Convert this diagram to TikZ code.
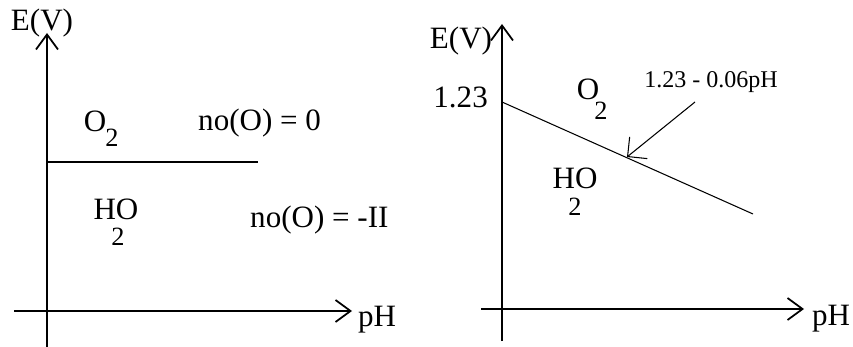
\documentclass[tikz,border=0pt]{standalone}
\usepackage{fontspec}
\setmainfont{Liberation Serif}
\usetikzlibrary{arrows.meta}

\begin{document}
\begin{tikzpicture}[x=0.03cm, y=-0.03cm,
		>={Straight Barb[length=0.45cm, width=0.66cm]},
		axis/.style={->, line width=1.5pt},
		lbl/.style={font=\fontsize{26.5}{30}\selectfont, inner sep=0pt},
		sub/.style={font=\fontsize{22.5}{26}\selectfont, inner sep=0pt},
		note/.style={font=\fontsize{20.5}{24}\selectfont, inner sep=0pt}]
		\useasboundingbox (0,0) rectangle (853,347);
		% left diagram: axes
		\coordinate (ybot1) at (47,347); \coordinate (ytop1) at (47,33);
		\coordinate (xlft1) at (14,311); \coordinate (xrgt1) at (352,311);
		\draw[axis] (ybot1) -- (ytop1);
		\draw[axis] (xlft1) -- (xrgt1);
		\node[lbl] (ev1) at (42,23) {E(V)};
		\node[lbl] (ph1) at (377,320) {pH};
		% boundary
		\coordinate (b0) at (47,162); \coordinate (b1) at (258,162);
		\draw[line width=1.5pt] (b0) -- (b1);
		\node[lbl] (oa) at (95,121) {O};
		\node[sub] (oa2) at (112,138) {2};
		\node[lbl, anchor=west] (no0) at (198,123) {no(O) = 0};
		\node[lbl] (hoa) at (116,209) {HO};
		\node[sub] (hoa2) at (118,237) {2};
		\node[lbl, anchor=west] (no2) at (250,220) {no(O) = -II};
		% right diagram: axes
		\coordinate (ybot2) at (502,341); \coordinate (ytop2) at (502,24);
		\coordinate (xlft2) at (481,309); \coordinate (xrgt2) at (804,309);
		\draw[axis] (ybot2) -- (ytop2);
		\draw[axis] (xlft2) -- (xrgt2);
		\node[lbl] (ev2) at (461,41) {E(V)};
		\node[lbl] (ph2) at (831,319) {pH};
		\node[lbl, anchor=east] (e0) at (488,97) {1.23};
		% sloped boundary and its label
		\coordinate (s0) at (502,102); \coordinate (s1) at (753,214);
		\coordinate (hit) at (627,157); \coordinate (tail) at (695,102);
		\draw[line width=0.9pt] (s0) -- (s1);
		\node[note] (eq) at (711,82) {1.23 - 0.06pH};
		\draw[line width=0.9pt, -{Straight Barb[length=0.42cm, width=0.84cm]}] (tail) -- (hit);
		\node[lbl] (ob) at (588,89) {O};
		\node[sub] (ob2) at (601,111) {2};
		\node[lbl] (hob) at (575,178) {HO};
		\node[sub] (hob2) at (575,207) {2};
	\end{tikzpicture}
\end{document}
